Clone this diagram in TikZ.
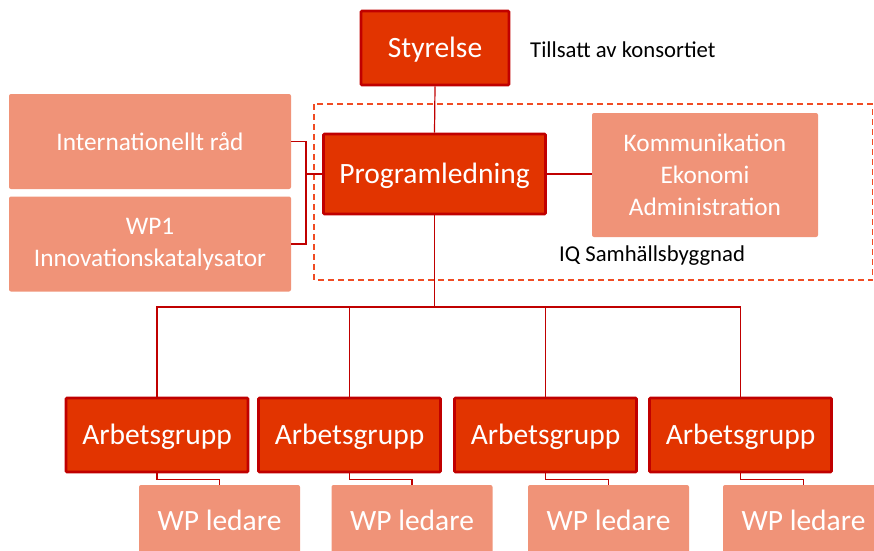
\documentclass[tikz,border=0pt]{standalone}
\usepackage{fontspec}
\setmainfont{Carlito}
\definecolor{leadfill}{RGB}{226,52,0}
\definecolor{edgered}{RGB}{192,0,0}
\definecolor{salmonfill}{RGB}{240,147,120}
\definecolor{dashred}{RGB}{240,75,35}

\tikzset{
  leadbox/.style={draw=edgered, line width=2.6pt, fill=leadfill, text=white,
    rounded corners=1pt, inner sep=0pt, text height=19pt, text depth=0pt,
    font=\fontsize{29.5}{34}\selectfont},
  supportbox/.style={fill=salmonfill, text=white, rounded corners=2pt,
    inner sep=0pt, align=center, font=\fontsize{25.3}{32}\selectfont},
  link/.style={draw=edgered, line width=1.2pt},
  frame/.style={draw=dashred, line width=1.3pt, dash pattern=on 6pt off 4pt},
  note/.style={anchor=west, inner sep=0pt, font=\fontsize{22.7}{26}\selectfont}
}

\begin{document}
\begin{tikzpicture}[x=1pt, y=-1pt]
  \useasboundingbox (0,0) rectangle (874,550);
  % Board and note
  \node[leadbox, minimum width=148pt, minimum height=74pt] (styrelse) at (435,48) {Styrelse};
  \node[note] (tillsatt) at (530,50) {Tillsatt av konsortiet};
  % IQ frame
  \draw[frame] (314,104) rectangle (872.5,280);
  \node[note] (iq) at (559,256) {IQ Samhällsbyggnad};
  \node[leadbox, minimum width=222pt, minimum height=80pt] (prog) at (434.5,174) {Programledning};
  \node[supportbox, minimum width=226pt, minimum height=124pt] (komm) at (705,175) {Kommunikation\\Ekonomi\\Administration};
  % Side boxes
  \node[supportbox, minimum width=282pt, minimum height=95pt] (intrad) at (150,141.5) {Internationellt råd};
  \node[supportbox, minimum width=282pt, minimum height=95pt] (wpone) at (150,244) {WP1\\Innovationskatalysator};
  % Work groups and leaders
  \foreach \i/\x/\w in {1/157/219.5, 2/349.5/412, 3/545.5/608.5, 4/740.5/803.5}{
    \node[leadbox, minimum width=182pt, minimum height=74pt] (arb\i) at (\x,435) {Arbetsgrupp};
    \node[supportbox, minimum width=161pt, minimum height=70pt, font=\fontsize{29.5}{34}\selectfont] (wpl\i) at (\w,520) {WP ledare};
  }
  % Connectors
  \coordinate (fork) at (306,174);
  \coordinate (bus) at (434.5,307);
  \draw[link] (styrelse.south) -- (prog.north);
  \draw[link] (prog.east) -- (komm.west |- prog.east);
  \draw[link] (intrad.east) -| (fork) |- (wpone.east);
  \draw[link] (prog.west) -- (fork);
  \draw[link] (prog.south) -- (bus);
  \foreach \i in {1,...,4}{
    \draw[link] (bus) -| (arb\i.north);
    \draw[link] (arb\i.south) -- ++(0,6) -| (wpl\i.north);
  }
\end{tikzpicture}
\end{document}
